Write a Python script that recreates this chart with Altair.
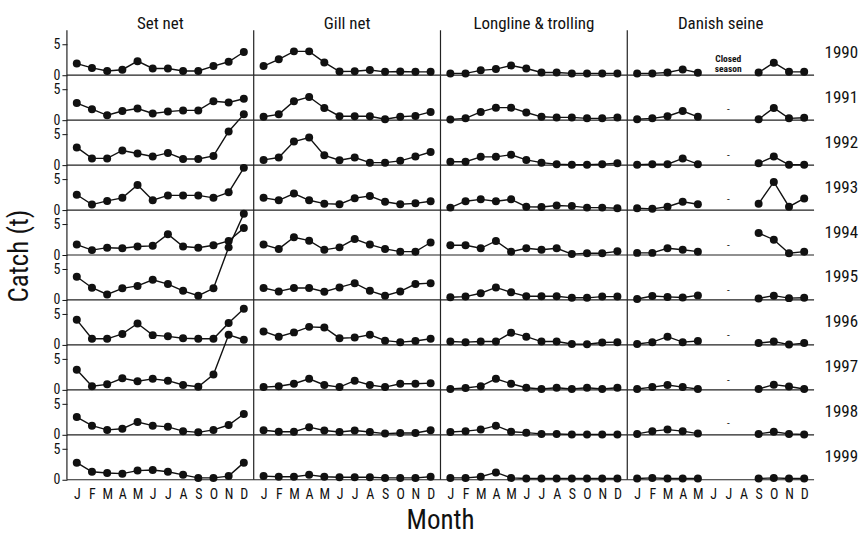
import json
import pandas as pd
import altair as alt

FONT = "Roboto Condensed, Noto Sans Condensed, DejaVu Sans Condensed, Liberation Sans Narrow, Roboto, sans-serif"

GEARS = ["Set net", "Gill net", "Longline & trolling", "Danish seine"]
YEARS = list(range(1990, 2000))
MONTHS = list(range(1, 13))
DANISH_MONTHS = [1, 2, 3, 4, 5, 9, 10, 11, 12]
MONTH_LABELS = ["J", "F", "M", "A", "M", "J", "J", "A", "S", "O", "N", "D"]

# Monthly catch (t), one list per year 1990-1999
SET_NET = [
    [1.9, 1.2, 0.7, 0.9, 2.3, 1.1, 1.1, 0.7, 0.7, 1.5, 2.2, 3.8],
    [2.8, 1.8, 0.8, 1.5, 1.9, 1.1, 1.4, 1.6, 1.6, 3.1, 2.9, 3.5],
    [2.9, 1.1, 1.1, 2.4, 1.9, 1.4, 2.0, 1.0, 1.0, 1.5, 5.5, 8.3],
    [2.5, 0.9, 1.5, 2.0, 4.1, 1.6, 2.4, 2.4, 2.4, 2.0, 2.9, 6.9],
    [1.7, 0.8, 1.2, 1.1, 1.4, 1.5, 3.4, 1.4, 1.2, 1.6, 2.3, 4.4],
    [3.8, 2.0, 0.9, 1.9, 2.3, 3.3, 2.6, 1.5, 0.7, 1.9, 8.6, 14.1],
    [4.1, 1.0, 1.0, 1.8, 3.5, 1.6, 1.4, 1.1, 1.0, 1.0, 3.6, 5.9],
    [3.3, 0.6, 0.9, 1.9, 1.4, 1.8, 1.5, 0.8, 0.5, 2.5, 9.0, 8.2],
    [2.9, 1.5, 0.8, 1.0, 2.1, 1.5, 1.3, 0.6, 0.4, 0.8, 1.6, 3.4],
    [2.8, 1.3, 1.1, 1.0, 1.5, 1.6, 1.3, 0.8, 0.3, 0.3, 0.6, 2.8],
]
GILL_NET = [
    [1.5, 2.6, 3.9, 3.9, 2.1, 0.6, 0.65, 0.85, 0.55, 0.6, 0.55, 0.55],
    [0.55, 0.95, 3.1, 3.8, 2.0, 0.65, 0.65, 0.65, 0.15, 0.55, 0.7, 1.35],
    [0.85, 1.25, 3.85, 4.5, 1.6, 0.8, 1.25, 0.4, 0.4, 0.7, 1.4, 2.15],
    [2.0, 1.6, 2.7, 1.6, 1.05, 0.95, 1.95, 2.3, 1.35, 0.95, 1.1, 1.45],
    [1.7, 1.0, 2.9, 2.35, 0.85, 1.25, 2.6, 1.7, 1.0, 0.55, 0.55, 2.05],
    [1.95, 1.4, 1.95, 1.95, 1.35, 2.05, 2.75, 1.5, 0.7, 1.4, 2.6, 2.75],
    [2.2, 1.35, 2.05, 2.95, 2.85, 1.1, 1.2, 1.65, 0.7, 0.45, 0.65, 1.0],
    [0.45, 0.6, 1.0, 1.8, 0.8, 0.45, 1.5, 0.8, 0.45, 1.0, 1.0, 1.1],
    [0.75, 0.5, 0.5, 1.25, 0.7, 0.45, 0.7, 0.45, 0.2, 0.3, 0.3, 0.75],
    [0.6, 0.5, 0.5, 0.8, 0.5, 0.4, 0.4, 0.4, 0.3, 0.3, 0.3, 0.5],
]
LONGLINE = [
    [0.3, 0.3, 0.8, 1.0, 1.6, 1.1, 0.45, 0.45, 0.3, 0.3, 0.3, 0.3],
    [0.1, 0.3, 1.35, 2.05, 2.05, 1.25, 0.55, 0.45, 0.45, 0.3, 0.3, 0.45],
    [0.55, 0.55, 1.35, 1.35, 1.7, 0.85, 0.4, 0.15, 0.05, 0.05, 0.15, 0.3],
    [0.4, 1.45, 1.75, 1.45, 1.75, 0.55, 0.5, 0.75, 0.65, 0.4, 0.4, 0.3],
    [1.6, 1.6, 1.1, 2.3, 0.55, 1.1, 0.85, 1.1, 0.15, 0.3, 0.3, 0.6],
    [0.45, 0.55, 1.1, 2.05, 1.25, 0.6, 0.6, 0.6, 0.35, 0.35, 0.55, 0.55],
    [0.55, 0.45, 0.55, 0.55, 2.0, 1.35, 0.55, 0.55, 0.15, 0.1, 0.4, 0.45],
    [0.15, 0.3, 0.6, 1.8, 1.0, 0.35, 0.15, 0.35, 0.15, 0.35, 0.15, 0.35],
    [0.45, 0.6, 0.85, 1.5, 0.5, 0.35, 0.15, 0.15, 0.05, 0.05, 0.05, 0.05],
    [0.3, 0.3, 0.5, 1.2, 0.3, 0.2, 0.2, 0.2, 0.2, 0.2, 0.2, 0.2],
]
# Danish seine: no fishing June-August
DANISH = [
    [0.3, 0.3, 0.45, 0.95, 0.4, 0.45, 2.05, 0.55, 0.55],
    [0.15, 0.3, 0.65, 1.5, 0.55, 0.15, 2.0, 0.3, 0.4],
    [0.05, 0.15, 0.15, 1.1, 0.15, 0.3, 1.4, 0.05, 0.05],
    [0.3, 0.2, 0.55, 1.35, 0.95, 1.05, 4.6, 0.55, 1.9],
    [0.35, 0.35, 1.1, 0.85, 0.55, 3.6, 2.5, 0.3, 0.55],
    [0.15, 0.65, 0.5, 0.4, 0.75, 0.25, 0.7, 0.3, 0.35],
    [0.15, 0.45, 1.35, 0.45, 0.65, 0.3, 0.55, 0.05, 0.3],
    [0.15, 0.45, 0.8, 0.45, 0.15, 0.15, 0.85, 0.55, 0.15],
    [0.15, 0.6, 0.85, 0.6, 0.2, 0.15, 0.5, 0.15, 0.05],
    [0.2, 0.3, 0.2, 0.2, 0.2, 0.2, 0.3, 0.2, 0.2],
]
# closed-season note and ditto marks in the Danish seine column
NOTE_LINES = ["Closed", "season"]
NOTE_Y = [2.6, 0.95]
DITTO_YEARS = [1991, 1992, 1993, 1994, 1995, 1996, 1997, 1998]
DITTO_Y = [1.6, 1.5, 1.6, 1.5, 1.5, 1.5, 1.5, 1.7]

rows = []
for gear, table, months in [
    ("Set net", SET_NET, MONTHS),
    ("Gill net", GILL_NET, MONTHS),
    ("Longline & trolling", LONGLINE, MONTHS),
    ("Danish seine", DANISH, DANISH_MONTHS),
]:
    for year, vals in zip(YEARS, table):
        for m, v in zip(months, vals):
            # the Danish seine line is broken across the closed season
            seg = 1 if (gear == "Danish seine" and m >= 9) else 0
            rows.append(dict(gear=gear, year=year, month=m, value=v,
                             seg=seg, kind="catch", label=""))
for txt, yv in zip(NOTE_LINES, NOTE_Y):
    rows.append(dict(gear="Danish seine", year=1990, month=7, value=yv,
                     seg=0, kind="note", label=txt))
for yr, yv in zip(DITTO_YEARS, DITTO_Y):
    rows.append(dict(gear="Danish seine", year=yr, month=7, value=yv,
                     seg=0, kind="ditto", label="-"))
df = pd.DataFrame(rows)

W, H = 187, 45
label_expr = json.dumps(MONTH_LABELS) + "[datum.value - 1]"

x_enc = alt.X(
    "month:Q",
    scale=alt.Scale(domain=[0.35, 12.65], nice=False, zero=False),
    axis=alt.Axis(values=MONTHS, labelExpr=label_expr, grid=False, domain=False,
                  ticks=False, labelPadding=8, labelFontSize=14, labelFont=FONT,
                  labelColor="#111", title=None),
)
y_enc = alt.Y(
    "value:Q",
    scale=alt.Scale(domain=[0, 7.35], nice=False),
    axis=alt.Axis(values=[0, 5], grid=False, domain=False, tickSize=5,
                  tickColor="#111", labelPadding=2, labelFontSize=14,
                  labelFont=FONT, labelColor="#111", title=None),
)

catch = alt.datum.kind == "catch"
first = (alt.datum.kind == "catch") & (alt.datum.month == 1)

lines = alt.Chart().mark_line(color="#111", strokeWidth=1.4).encode(
    x=x_enc, y=y_enc, detail="seg:N").transform_filter(catch)
dots = alt.Chart().mark_circle(size=64, color="#111", opacity=1).encode(
    x=x_enc, y=y_enc).transform_filter(catch)
base_rule = alt.Chart().mark_rule(color="#222", strokeWidth=1.2).encode(
    x=alt.value(0), x2=alt.value(W), y=alt.value(H)).transform_filter(first)
left_rule = alt.Chart().mark_rule(color="#222", strokeWidth=1.2).encode(
    x=alt.value(0), y=alt.value(0), y2=alt.value(H)).transform_filter(first)
note = alt.Chart().mark_text(font=FONT, fontSize=9.5, fontWeight="bold",
                             color="#111").encode(
    x=x_enc, y=y_enc, text="label:N").transform_filter(alt.datum.kind == "note")
ditto = alt.Chart().mark_text(font=FONT, fontSize=11, color="#111").encode(
    x=x_enc, y=y_enc, text="label:N").transform_filter(alt.datum.kind == "ditto")

layered = alt.layer(base_rule, left_rule, lines, dots, note, ditto, data=df).properties(
    width=W, height=H)

chart = layered.facet(
    row=alt.Row("year:O", title="Catch (t)",
                header=alt.Header(labelOrient="right", labelAngle=0,
                                  labelAlign="left", labelBaseline="middle",
                                  labelFont=FONT, labelFontSize=17,
                                  labelColor="#111", labelPadding=-23,
                                  titleOrient="left", titleAngle=-90,
                                  titleFont=FONT, titleFontSize=27,
                                  titleFontWeight="normal", titleColor="#111",
                                  titlePadding=-18)),
    column=alt.Column("gear:N", sort=GEARS, title="Month",
                      header=alt.Header(labelOrient="top", labelFont=FONT,
                                        labelFontSize=17, labelColor="#111",
                                        labelPadding=-3, titleOrient="bottom",
                                        titleFont=FONT, titleFontSize=27,
                                        titleFontWeight="normal",
                                        titleColor="#111", titlePadding=-4)),
    spacing=0,
    bounds="flush",
).configure_view(stroke=None).properties(
    background="white", padding={"left": 5, "top": 15, "right": 5, "bottom": 4})

chart.save("out.html", embed_options={"renderer": "svg", "actions": False})
